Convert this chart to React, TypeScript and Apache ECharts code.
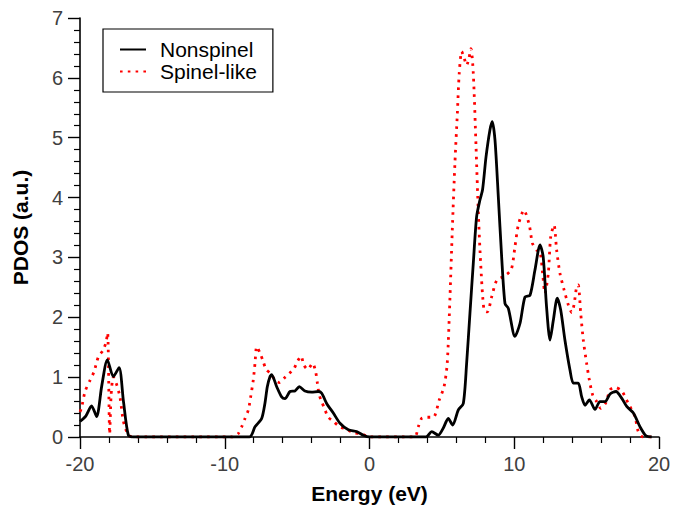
import React, { useEffect, useRef } from "react";
import * as echarts from "echarts";

const nonspinelE = [-20, -19.6, -19.2, -18.85, -18.5, -18.11, -17.7, -17.3, -17.0, -16.66, -16.3, -8.3, -7.91, -7.45, -7.22, -7.06, -6.87, -6.76, -6.41, -6.07, -5.84, -5.49, -5.15, -4.85, -4.46, -4.0, -3.54, -3.3, -2.96, -2.5, -2.04, -1.46, -0.89, -0.43, 0, 3.9, 4.3, 4.75, 5.1, 5.44, 5.75, 6.13, 6.48, 6.71, 6.94, 7.17, 7.4, 7.63, 7.81, 8.05, 8.32, 8.48, 8.67, 8.9, 9.13, 9.36, 9.59, 10.05, 10.4, 10.74, 11.09, 11.43, 11.78, 12.0, 12.23, 12.47, 12.7, 12.97, 13.21, 13.5, 13.85, 14.08, 14.42, 14.66, 14.89, 15.19, 15.58, 15.92, 16.27, 16.62, 17.03, 17.42, 17.77, 18.23, 18.69, 19.1, 19.5];
const nonspinelPDOS = [0.26, 0.35, 0.52, 0.34, 0.85, 1.29, 1.01, 1.16, 0.6, 0.03, 0, 0, 0.17, 0.31, 0.57, 0.84, 1.01, 1.04, 0.84, 0.67, 0.64, 0.76, 0.77, 0.84, 0.77, 0.75, 0.76, 0.73, 0.56, 0.4, 0.23, 0.12, 0.09, 0.03, 0, 0, 0.09, 0.03, 0.15, 0.31, 0.2, 0.45, 0.56, 1.23, 2.07, 2.9, 3.68, 3.96, 4.13, 4.68, 5.13, 5.27, 4.96, 4.01, 3.01, 2.23, 2.15, 1.68, 1.9, 2.34, 2.37, 2.79, 3.21, 3.01, 2.18, 1.62, 1.95, 2.32, 2.12, 1.62, 1.12, 0.9, 0.9, 0.67, 0.53, 0.62, 0.46, 0.59, 0.59, 0.72, 0.76, 0.65, 0.51, 0.4, 0.17, 0.02, 0];

const spinelE = [-20, -19.9, -19.65, -19.3, -19.03, -18.73, -18.4, -18.2, -18.09, -17.95, -17.85, -17.7, -17.5, -17.24, -17.0, -16.66, -16.3, -9.52, -9.06, -8.83, -8.6, -8.37, -8.21, -8.03, -7.91, -7.79, -7.56, -7.34, -7.15, -6.83, -6.53, -6.23, -5.91, -5.54, -5.2, -4.96, -4.73, -4.53, -4.27, -3.93, -3.72, -3.6, -3.47, -3.3, -3.07, -2.85, -2.5, -2.04, -1.58, -1.12, -0.54, 0, 3.1, 3.37, 3.6, 3.95, 4.41, 4.82, 5.15, 5.37, 5.56, 5.72, 5.9, 6.07, 6.2, 6.37, 6.55, 6.71, 6.87, 7.01, 7.17, 7.36, 7.52, 7.68, 7.91, 8.14, 8.44, 8.79, 9.25, 9.78, 10.05, 10.28, 10.67, 11.04, 11.25, 11.55, 11.78, 11.97, 12.12, 12.35, 12.52, 12.75, 12.93, 13.16, 13.44, 13.73, 13.97, 14.13, 14.31, 14.42, 14.59, 14.77, 15.0, 15.19, 15.42, 15.7, 15.97, 16.34, 16.62, 16.96, 17.42, 17.88, 18.34, 18.57, 18.9, 19.5];
const spinelPDOS = [0.42, 0.48, 0.76, 0.95, 1.09, 1.34, 1.45, 1.59, 1.74, 0.05, 0.7, 1.0, 0.9, 0.67, 0.26, 0.03, 0, 0, 0.06, 0.17, 0.31, 0.45, 0.67, 0.95, 1.23, 1.51, 1.4, 1.26, 1.13, 1.06, 0.95, 0.91, 0.98, 1.06, 1.15, 1.27, 1.35, 1.2, 1.13, 1.23, 1.09, 0.9, 0.7, 0.59, 0.45, 0.33, 0.26, 0.17, 0.13, 0.07, 0.05, 0, 0, 0.17, 0.31, 0.33, 0.33, 0.62, 0.84, 1.23, 2.34, 3.46, 4.57, 5.41, 6.08, 6.44, 6.32, 6.21, 6.33, 6.49, 6.08, 4.85, 3.74, 2.9, 2.12, 2.09, 2.34, 2.62, 2.68, 2.79, 3.18, 3.54, 3.79, 3.54, 3.24, 3.12, 3.1, 2.71, 2.4, 2.73, 3.35, 3.54, 3.12, 2.73, 2.46, 2.21, 2.08, 2.21, 2.51, 2.54, 2.07, 1.62, 1.23, 0.95, 0.7, 0.59, 0.48, 0.58, 0.79, 0.83, 0.77, 0.56, 0.34, 0.09, 0, 0];

const seriesNames = ["Nonspinel", "Spinel-like"];
const xAxisTitle = "Energy (eV)";
const yAxisTitle = "PDOS (a.u.)";

const FONT = "Liberation Sans, Arial, sans-serif";

export default function App() {
  const ref = useRef<HTMLDivElement>(null);
  useEffect(() => {
    if (!ref.current) return;
    document.body.style.margin = "0";
    const chart = echarts.init(ref.current, undefined, { renderer: "svg" });
    const pair = (xs: number[], ys: number[]) => xs.map((x, i) => [x, ys[i]]);
    const axisCommon = {
      axisLine: { show: true, onZero: false, lineStyle: { color: "#000", width: 1.6 } },
      axisTick: { show: true, inside: false, length: 12, lineStyle: { color: "#000", width: 1.4 } },
      minorTick: { show: true, splitNumber: 5, length: 6, lineStyle: { color: "#000", width: 1.2 } },
      splitLine: { show: false },
      minorSplitLine: { show: false },
      axisLabel: { color: "#404040", fontSize: 20, fontFamily: FONT, margin: 17 },
      nameLocation: "middle" as const,
      nameTextStyle: { color: "#000", fontSize: 21, fontWeight: "bold" as const, fontFamily: FONT },
    };
    chart.setOption({
      animation: false,
      backgroundColor: "#fff",
      grid: { left: 80, right: 24, top: 18, bottom: 69, containLabel: false, outerBoundsMode: "none" },
      legend: {
        left: 103,
        top: 29,
        orient: "vertical",
        borderColor: "#000",
        borderWidth: 1.2,
        padding: [10, 16, 10, 16],
        itemGap: 1,
        itemWidth: 26,
        itemHeight: 10,
        itemStyle: { opacity: 0 },
        textStyle: { color: "#000", fontSize: 21, fontFamily: FONT, padding: [0, 0, 0, 9] },
        data: seriesNames,
      },
      xAxis: {
        type: "value",
        min: -20,
        max: 20,
        interval: 10,
        name: xAxisTitle,
        nameGap: 46,
        ...axisCommon,
      },
      yAxis: {
        type: "value",
        min: 0,
        max: 7,
        interval: 1,
        name: yAxisTitle,
        nameGap: 49,
        ...axisCommon,
      },
      series: [
        {
          name: seriesNames[0],
          type: "line",
          data: pair(nonspinelE, nonspinelPDOS),
          symbol: "none",
          smooth: 0.25,
          lineStyle: { color: "#000", width: 2.8 },
          itemStyle: { color: "#000" },
          z: 3,
        },
        {
          name: seriesNames[1],
          type: "line",
          data: pair(spinelE, spinelPDOS),
          symbol: "none",
          smooth: 0.25,
          lineStyle: { color: "#ff0000", width: 2.8, type: [2.6, 5.2] },
          itemStyle: { color: "#ff0000" },
          z: 2,
        },
      ],
    });
    return () => chart.dispose();
  }, []);
  return <div ref={ref} style={{ width: 683, height: 506 }} />;
}
